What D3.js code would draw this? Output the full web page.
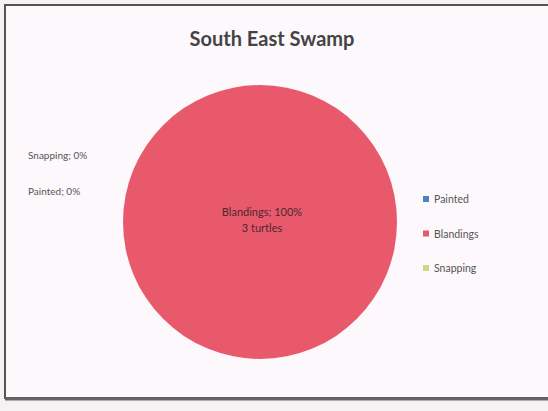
<!DOCTYPE html>
<html><head><meta charset="utf-8">
<script src="https://cdn.jsdelivr.net/npm/d3@7"></script>
<style>body{margin:0;background:#fff;}svg{display:block;}</style>
</head><body>
<script>
const categories = ["Painted", "Blandings", "Snapping"];
const values = [0, 3, 0];
const percents = ["0%", "100%", "0%"];
const colors = ["#4f81bd", "#e9596c", "#c8d98a"];
const title = "South East Swamp";

const W = 548, H = 411;
const svg = d3.select("body").append("svg").attr("width", W).attr("height", H);
svg.append("rect").attr("width", W).attr("height", H).attr("fill", "#f4f2f3");
svg.append("rect").attr("x", 5).attr("y", 5).attr("width", 548).attr("height", 393)
  .attr("fill", "#fdf8fb").attr("stroke", "#555").attr("stroke-width", 2);
svg.append("line").attr("x1", 5).attr("x2", 548).attr("y1", 399).attr("y2", 399)
  .attr("stroke", "#666").attr("stroke-width", 3);

const font = "Lato, 'Open Sans', sans-serif";
svg.append("text").attr("x", 272).attr("y", 46).attr("text-anchor", "middle")
  .attr("font-family", font).attr("font-weight", "bold").attr("font-size", 20)
  .attr("fill", "#444").text(title);

const cx = 260, cy = 222, r = 137;
const pie = d3.pie().sort(null).value(d => d)(values);
const arc = d3.arc().innerRadius(0).outerRadius(r);
const g = svg.append("g").attr("transform", `translate(${cx},${cy})`);
g.selectAll("path").data(pie).join("path").attr("d", arc)
  .attr("fill", (d, i) => colors[i]);

// center label for Blandings
const labelFill = "#4a2a30";
g.append("text").attr("x", 2).attr("y", -6).attr("text-anchor", "middle")
  .attr("font-family", font).attr("font-size", 11).attr("fill", labelFill)
  .text(`${categories[1]}; ${percents[1]}`);
g.append("text").attr("x", 2).attr("y", 10).attr("text-anchor", "middle")
  .attr("font-family", font).attr("font-size", 11).attr("fill", labelFill)
  .text(`${values[1]} turtles`);

// zero labels on the left
const zeroLabels = [{i: 2, y: 159}, {i: 0, y: 195}];
zeroLabels.forEach(z => {
  svg.append("text").attr("x", 28).attr("y", z.y)
    .attr("font-family", font).attr("font-size", 10).attr("fill", "#555")
    .text(`${categories[z.i]}; ${percents[z.i]}`);
});

// legend
const ly = d3.scalePoint().domain(categories).range([200, 269]);
const lg = svg.append("g");
categories.forEach((c, i) => {
  lg.append("rect").attr("x", 423).attr("y", ly(c) - 4).attr("width", 6).attr("height", 6)
    .attr("fill", colors[i]);
  lg.append("text").attr("x", 434).attr("y", ly(c) + 3)
    .attr("font-family", font).attr("font-size", 10.5).attr("fill", "#555").text(c);
});
</script>
</body></html>
